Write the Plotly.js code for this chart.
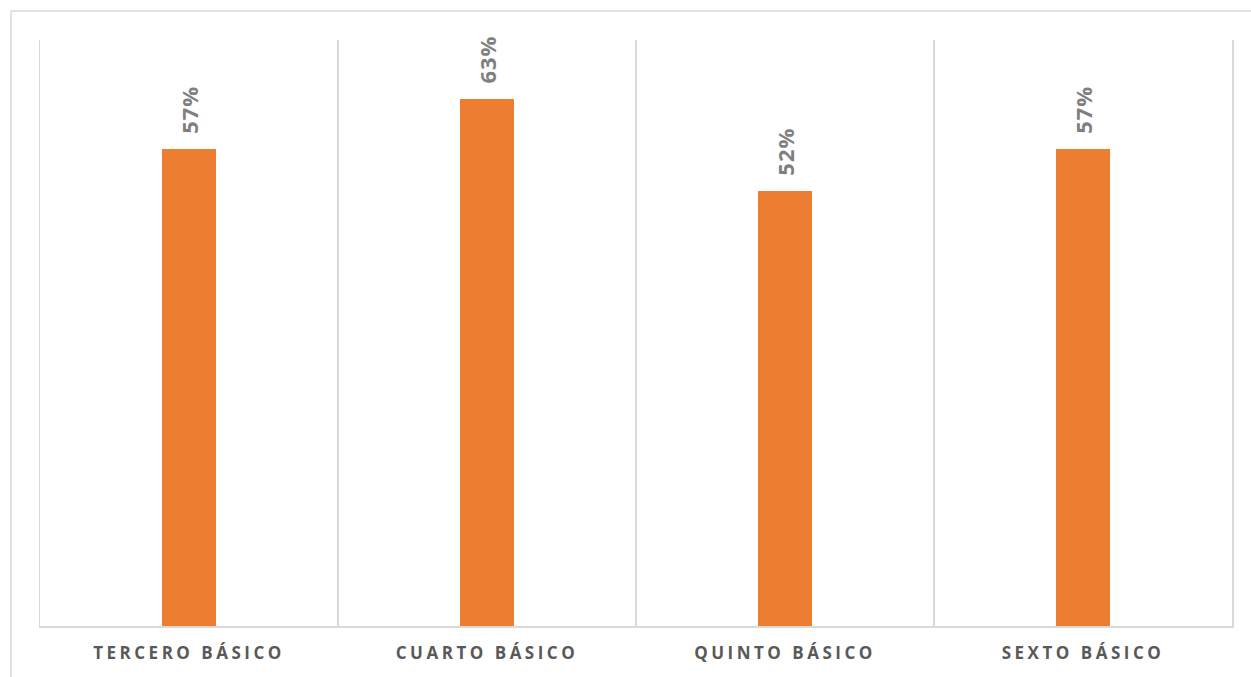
<!DOCTYPE html>
<html>
<head>
<meta charset="utf-8">
<script src="https://cdn.plot.ly/plotly-3.0.1.min.js"></script>
<style>
  html, body { margin: 0; padding: 0; background: #fff; overflow: hidden; }
  #chart { width: 1251px; height: 677px; }
  #chart .xtick text { letter-spacing: 3.5px; }
  #chart .annotation-text { letter-spacing: 1px; }
</style>
</head>
<body>
<div id="chart"></div>
<script>
// Grade levels and their shares
const categories = ['TERCERO BÁSICO', 'CUARTO BÁSICO', 'QUINTO BÁSICO', 'SEXTO BÁSICO'];
const values = [0.57, 0.63, 0.52, 0.57];
const valueLabels = ['57%', '63%', '52%', '57%'];

const barColor = '#ED7D31';
const lineColor = '#d9d9d9';

const trace = {
  type: 'bar',
  x: categories,
  y: values,
  width: 0.181,
  marker: { color: barColor, line: { width: 0 } },
  hoverinfo: 'x+y'
};

// Rotated value labels sitting above each bar
const labels = categories.map((c, i) => ({
  x: c,
  y: values[i],
  xref: 'x',
  yref: 'y',
  text: valueLabels[i],
  textangle: -90,
  showarrow: false,
  xanchor: 'center',
  yanchor: 'bottom',
  yshift: 14,
  font: { family: 'Open Sans, sans-serif', size: 22, color: '#7f7f7f', weight: 700 }
}));

const layout = {
  width: 1251,
  height: 677,
  margin: { l: 40, r: 19, t: 40, b: 51, pad: 0 },
  paper_bgcolor: '#ffffff',
  plot_bgcolor: '#ffffff',
  showlegend: false,
  bargap: 0,
  xaxis: {
    type: 'category',
    tickson: 'boundaries',
    showgrid: true,
    gridcolor: lineColor,
    gridwidth: 1.5,
    showline: true,
    linecolor: lineColor,
    linewidth: 1.5,
    ticks: '',
    ticklabelstandoff: 11,
    tickfont: { family: 'Open Sans, sans-serif', size: 17, color: '#595959', weight: 700 },
    fixedrange: true
  },
  yaxis: {
    range: [0, 0.7],
    showgrid: false,
    zeroline: false,
    showticklabels: false,
    ticks: '',
    showline: true,
    mirror: true,
    linecolor: lineColor,
    linewidth: 1.5,
    fixedrange: true
  },
  annotations: labels,
  shapes: [{
    type: 'rect',
    xref: 'paper', yref: 'paper',
    x0: -0.0243, x1: 1.2,
    y0: -0.2, y1: 1.0495,
    line: { color: lineColor, width: 1.5 },
    fillcolor: 'rgba(0,0,0,0)',
    layer: 'below'
  }]
};

Plotly.newPlot('chart', [trace], layout, { displayModeBar: false, staticPlot: true });
</script>
</body>
</html>
